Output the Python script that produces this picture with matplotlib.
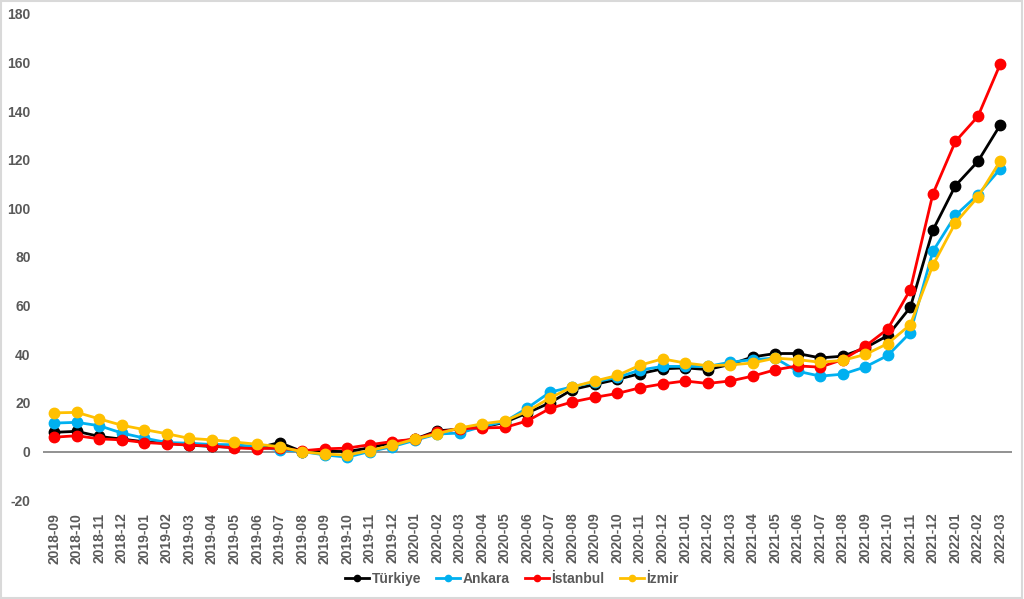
import numpy as np
import matplotlib.pyplot as plt
from matplotlib.patches import Rectangle

plt.rcParams['font.family'] = ['Liberation Sans', 'DejaVu Sans']
plt.rcParams['axes.unicode_minus'] = False

months = ['2018-09', '2018-10', '2018-11', '2018-12',
          '2019-01', '2019-02', '2019-03', '2019-04', '2019-05', '2019-06',
          '2019-07', '2019-08', '2019-09', '2019-10', '2019-11', '2019-12',
          '2020-01', '2020-02', '2020-03', '2020-04', '2020-05', '2020-06',
          '2020-07', '2020-08', '2020-09', '2020-10', '2020-11', '2020-12',
          '2021-01', '2021-02', '2021-03', '2021-04', '2021-05', '2021-06',
          '2021-07', '2021-08', '2021-09', '2021-10', '2021-11', '2021-12',
          '2022-01', '2022-02', '2022-03']

turkiye = [7.9, 8.3, 6.2, 5.1, 4.0, 3.4, 2.6, 2.1, 1.7, 1.4, 3.7, 0.0, 0.1, 0.0,
           1.5, 3.7, 5.1, 8.5, 9.2, 10.0, 12.0, 15.9, 20.0, 25.5, 27.6, 29.7,
           32.0, 34.0, 34.4, 33.7, 35.8, 38.9, 40.3, 40.3, 38.5, 39.2, 42.6,
           47.7, 59.3, 91.0, 109.3, 119.3, 134.4]
ankara = [11.7, 12.0, 10.6, 7.6, 5.5, 3.7, 3.4, 2.9, 2.8, 2.0, 0.7, 0.0, -1.4,
          -2.3, 0.0, 2.0, 4.6, 7.2, 7.6, 10.3, 12.3, 17.9, 24.4, 26.6, 28.6,
          30.5, 33.5, 35.0, 35.0, 35.0, 36.7, 37.8, 38.4, 33.0, 31.0, 31.8,
          34.8, 39.5, 48.9, 82.3, 97.1, 105.6, 116.3]
istanbul = [5.9, 6.5, 5.2, 4.8, 3.7, 3.2, 2.6, 2.3, 1.5, 1.2, 1.4, 0.3, 1.1, 1.4,
            2.8, 4.1, 5.1, 7.9, 9.4, 9.7, 9.9, 12.6, 17.7, 20.4, 22.3, 23.9,
            26.2, 27.8, 29.0, 28.0, 29.0, 31.0, 33.6, 35.2, 34.7, 37.8, 43.3,
            50.4, 66.6, 105.9, 127.5, 137.8, 159.5]
izmir = [15.9, 16.1, 13.4, 10.8, 9.0, 7.3, 5.4, 4.8, 3.9, 3.0, 2.0, -0.1, -1.0,
         -1.5, 0.4, 2.5, 5.1, 7.3, 9.7, 11.4, 12.6, 16.6, 22.0, 26.6, 29.0,
         31.3, 35.5, 38.1, 36.4, 35.3, 35.6, 36.4, 38.4, 37.8, 36.7, 37.5,
         39.9, 44.4, 52.2, 76.6, 94.0, 104.7, 119.6]

series = [('Türkiye', turkiye, '#000000'),
          ('Ankara', ankara, '#00B0F0'),
          ('İstanbul', istanbul, '#FF0000'),
          ('İzmir', izmir, '#FFC000')]

fig = plt.figure(figsize=(10.24, 5.99), dpi=100)
ax = fig.add_axes([0.042, 0.165, 0.946, 0.812])

x = np.arange(len(months))
for name, vals, col in series:
    ax.plot(x, vals, color=col, linewidth=2, marker='o', markersize=7.5,
            label=name)

ax.axhline(0, color='#7f7f7f', linewidth=1.2, zorder=1)
ax.set_xlim(-0.5, len(months) - 0.5)
ax.set_ylim(-20, 180)
ax.set_yticks(np.arange(-20, 181, 20))
ax.set_xticks(x)
ax.set_xticklabels(months, rotation=90)
for s in ax.spines.values():
    s.set_visible(False)
ax.tick_params(length=0, colors='#595959', labelsize=10)
ax.tick_params(axis='x', pad=9)
ax.tick_params(axis='y', pad=9)
for lab in ax.get_xticklabels() + ax.get_yticklabels():
    lab.set_fontweight('bold')

handles, labels = ax.get_legend_handles_labels()
leg = fig.legend(handles, labels, loc='center', bbox_to_anchor=(0.5, 0.033),
                 ncol=4, frameon=False, handlelength=1.7, columnspacing=1.1,
                 handletextpad=0.2, markerscale=0.6,
                 prop={'weight': 'bold', 'size': 10})
for t in leg.get_texts():
    t.set_color('#595959')

fig.patches.append(Rectangle((0.001, 0.001), 0.997, 0.997, transform=fig.transFigure,
                             fill=False, edgecolor='#d9d9d9', linewidth=1.5))

fig.savefig('out.png', dpi=100)
